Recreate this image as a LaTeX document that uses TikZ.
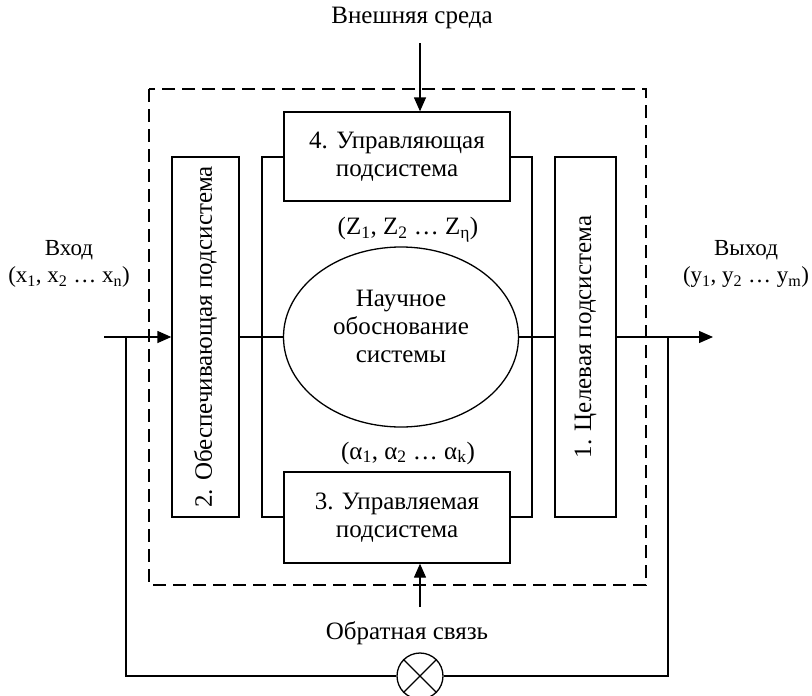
\documentclass[tikz,border=0pt]{standalone}
\usepackage{fontspec}
\setmainfont{Liberation Serif}
\usepackage{graphicx}
\usetikzlibrary{arrows.meta,positioning,shapes.geometric}

\begin{document}
\begin{tikzpicture}[x=1pt, y=-1pt,
    box/.style={draw, fill=white, line width=1.3pt, align=center, inner sep=0pt, font=\fontsize{25}{28}\selectfont},
    lbl/.style={align=center, inner sep=0pt, font=\fontsize{25}{28}\selectfont},
    side/.style={lbl, font=\fontsize{23}{27}\selectfont},
    line/.style={line width=1.3pt},
    arrow/.style={-{Triangle[length=14pt,width=12pt]}, line width=1.3pt}
  ]
    \fill[white] (0,0) rectangle (812,696);
    \useasboundingbox (0,0) rectangle (812,696);
    % system border and inner frame
    \draw[line, dash pattern=on 13pt off 7pt] (149,89) rectangle (646,585);
    \draw[line] (262,157) rectangle (532,517);
    % subsystems
    \node[box, minimum width=226pt, minimum height=89pt] (ctrl) at (397,156.5) {4. Управляющая\\подсистема};
    \node[box, minimum width=226pt, minimum height=91pt] (mgd) at (397,517.5) {3. Управляемая\\подсистема};
    \node[box, minimum width=67pt, minimum height=360pt] (supp) at (205.5,337) {\rotatebox{90}{2. Обеспечивающая подсистема}};
    \node[box, minimum width=61pt, minimum height=360pt] (goal) at (585.5,337) {\rotatebox{90}{1. Целевая подсистема}};
    \node[box, ellipse, minimum width=235pt, minimum height=180pt] (sci) at (401,337) {};
    \node[lbl] (scitxt) at ([yshift=11pt]sci.center) {Научное\\обоснование\\системы};
    \node[lbl] (zvec) at (408,230) {(Z\textsubscript{1}, Z\textsubscript{2} … Z\textsubscript{η})};
    \node[lbl] (avec) at (408,453) {(α\textsubscript{1}, α\textsubscript{2} … α\textsubscript{k})};
    % inputs and outputs
    \node[side] (inlbl) at (69,264) {Вход\\(x\textsubscript{1}, x\textsubscript{2} … x\textsubscript{n})};
    \node[side] (outlbl) at (746,264) {Выход\\(y\textsubscript{1}, y\textsubscript{2} … y\textsubscript{m})};
    \node[lbl] (env) at (412,18) {Внешняя среда};
    \node[lbl] (fblbl) at (407,633) {Обратная связь};
    \node[draw, circle, line width=1.3pt, fill=white, minimum size=46pt, inner sep=0pt] (fb) at (420,676) {};
    \draw[line] (fb.north west) -- (fb.south east);
    \draw[line] (fb.north east) -- (fb.south west);
    \coordinate (in) at (104,337);
    \coordinate (out) at (713,337);
    \coordinate (fbL) at (126,337);
    \coordinate (fbR) at (668,337);
    \coordinate (envtop) at (420,43);
    \coordinate (fbtop) at (420,607);
    % connectors
    \draw[arrow] (in) -- (supp.west);
    \draw[line] (supp.east) -- (sci.west);
    \draw[line] (sci.east) -- (goal.west);
    \draw[arrow] (goal.east) -- (out);
    \draw[line] (fbL) |- (fb.west);
    \draw[line] (fb.east) -| (fbR);
    \draw[arrow] (envtop) -- (envtop |- ctrl.north);
    \draw[arrow] (fbtop) -- (fbtop |- mgd.south);
\end{tikzpicture}
\end{document}
